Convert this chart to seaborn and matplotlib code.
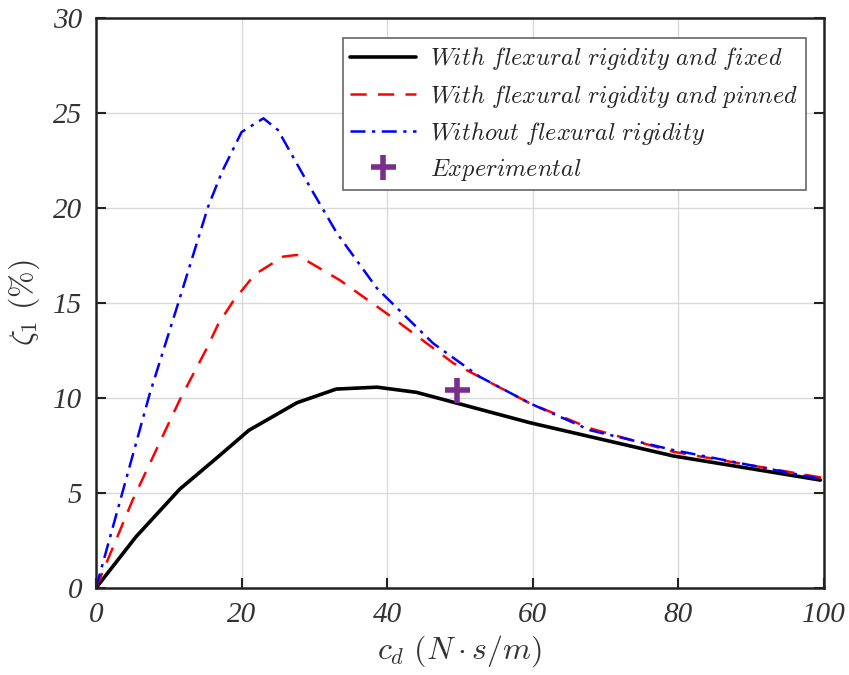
import matplotlib
matplotlib.use("Agg")
import matplotlib.pyplot as plt
import seaborn as sns
import pandas as pd

# ---- data ----
x_fixed = [0, 5.5, 11.5, 16.6, 21.0, 27.6, 33.0, 38.6, 44.0, 59.6, 79.3, 99.5]
y_fixed = [0, 2.7, 5.2, 6.85, 8.3, 9.75, 10.47, 10.57, 10.3, 8.7, 6.95, 5.68]

x_pinned = [0, 5.0, 11.5, 15.2, 16.8, 18.8, 21.8, 25.7, 27.6, 33.5, 39.9, 49.1, 59.6, 67.9, 79.3, 99.8]
y_pinned = [0, 4.6, 9.9, 12.6, 13.9, 15.07, 16.5, 17.44, 17.53, 16.2, 14.46, 11.83, 9.72, 8.4, 7.17, 5.8]

x_free = [0, 7.4, 11.3, 15.4, 17.3, 20.0, 23.0, 25.0, 29.4, 33.1, 38.6, 46.3, 52.7, 59.6, 67.9, 79.3, 99.8]
y_free = [0, 10.25, 15.0, 20.07, 21.9, 24.0, 24.72, 24.1, 21.1, 18.67, 15.77, 12.88, 11.12, 9.72, 8.3, 7.26, 5.72]

x_exp = [49.6]
y_exp = [10.4]

labels = ["With flexural rigidity and fixed",
          "With flexural rigidity and pinned",
          "Without flexural rigidity",
          "Experimental"]

x_ticks = [0, 20, 40, 60, 80, 100]
y_ticks = [0, 5, 10, 15, 20, 25, 30]

sns.set_theme(style="white")
plt.rcParams["mathtext.fontset"] = "cm"
plt.rcParams["font.family"] = ["DejaVu Serif"]

fig = plt.figure(figsize=(8.49, 6.75), dpi=100)
ax = fig.add_axes([96/849, 1-588/675, (824-96)/849, (588-18)/675])

def lbl(s):
    return r"$\mathit{" + s.replace(" ", r"\ ") + "}$"

sns.lineplot(x=x_fixed, y=y_fixed, ax=ax, color="black", lw=2.6,
             label=lbl(labels[0]), sort=False)
sns.lineplot(x=x_pinned, y=y_pinned, ax=ax, color="red", lw=1.8,
             linestyle=(0, (6.5, 4.5)), label=lbl(labels[1]), sort=False)
sns.lineplot(x=x_free, y=y_free, ax=ax, color="blue", lw=1.8,
             linestyle=(0, (6, 2.6, 1.3, 2.6)), label=lbl(labels[2]), sort=False)
ax.plot(x_exp, y_exp, linestyle="none", marker="+", markersize=18,
        markeredgewidth=4, color="#7B2D8E", label=lbl(labels[3]))

ax.set_xlim(0, 100)
ax.set_ylim(0, 30)
ax.set_xticks(x_ticks)
ax.set_yticks(y_ticks)
tick_font = dict(family="Liberation Serif", style="italic", size=21)
ax.set_xticklabels([str(t) for t in x_ticks], fontdict=tick_font)
ax.set_yticklabels([str(t) for t in y_ticks], fontdict=tick_font)
ax.tick_params(direction="in", length=7, width=1.5, top=False, right=True,
               left=True, bottom=True, colors="#222222", pad=10)
for t in ax.get_xticklabels() + ax.get_yticklabels():
    t.set_color("#333333")
ax.grid(True, color="#d9d9d9", lw=1)
for s in ax.spines.values():
    s.set_color("#222222")
    s.set_linewidth(1.8)

ax.set_xlabel(r"$c_d\ (N\cdot s/m)$", fontsize=23, color="#333333", labelpad=4)
ax.set_ylabel(r"$\zeta_1\ (\%)$", fontsize=23, color="#333333", labelpad=8)

leg = ax.legend(loc="upper right", bbox_to_anchor=(806/849, 1-38/675),
                bbox_transform=fig.transFigure, borderaxespad=0,
                fontsize=17.5, frameon=True,
                fancybox=False, edgecolor="#666666", framealpha=1,
                handlelength=2.7, borderpad=0.3, labelspacing=0.42,
                handletextpad=0.6)
leg.get_frame().set_linewidth(1.2)

fig.savefig("out.png", dpi=100)
